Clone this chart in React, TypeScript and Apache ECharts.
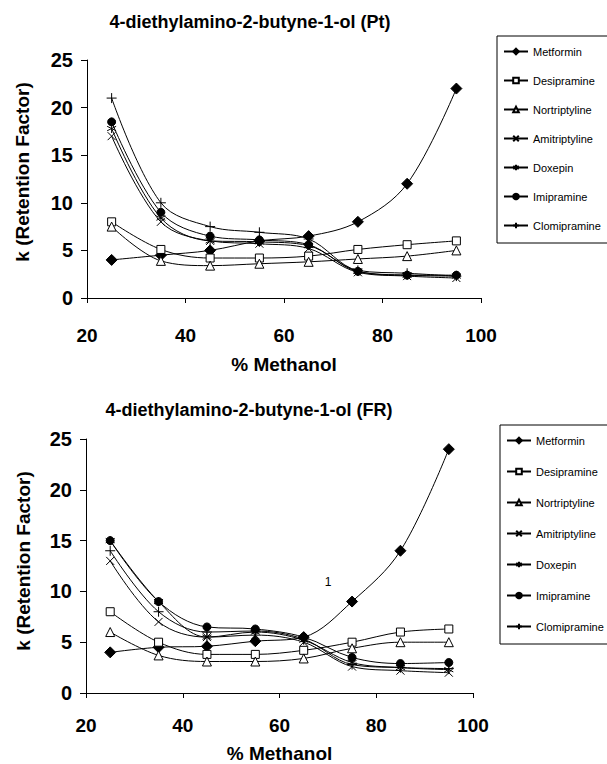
import React, { useEffect, useRef } from 'react';
import * as echarts from 'echarts';

const methanol = [25, 35, 45, 55, 65, 75, 85, 95];
const drugNames = ['Metformin', 'Desipramine', 'Nortriptyline', 'Amitriptyline', 'Doxepin', 'Imipramine', 'Clomipramine'];

// Top chart (Pt)
const metforminPt = [4, 4.5, 5, 6, 6.5, 8, 12, 22];
const desipraminePt = [8, 5.1, 4.2, 4.2, 4.4, 5.1, 5.6, 6.0];
const nortriptylinePt = [7.5, 3.9, 3.4, 3.6, 3.8, 4.1, 4.4, 5.0];
const amitriptylinePt = [17, 8, 6, 5.7, 5.2, 2.7, 2.3, 2.1];
const doxepinPt = [17.8, 8.4, 6.0, 5.9, 5.5, 2.8, 2.4, 2.3];
const imipraminePt = [18.5, 9, 6.5, 6.1, 5.6, 2.8, 2.4, 2.4];
const clomipraminePt = [21, 10, 7.5, 6.9, 6.2, 2.9, 2.6, 2.3];

// Bottom chart (FR)
const metforminFR = [4, 4.5, 4.6, 5.1, 5.5, 9, 14, 24];
const desipramineFR = [8, 5, 3.8, 3.8, 4.2, 5, 6, 6.3];
const nortriptylineFR = [6, 3.7, 3.1, 3.1, 3.4, 4.4, 5, 5];
const amitriptylineFR = [13, 7, 5.5, 5.7, 5.0, 2.6, 2.2, 2.0];
const doxepinFR = [15, 9, 5.5, 6, 5.2, 3.0, 2.5, 2.3];
const imipramineFR = [15, 9, 6.5, 6.3, 5.5, 3.5, 2.9, 3.0];
const clomipramineFR = [14, 8, 6, 6.1, 5.3, 2.8, 2.5, 2.4];

const titles = ['4-diethylamino-2-butyne-1-ol (Pt)', '4-diethylamino-2-butyne-1-ol (FR)'];
const xName = '% Methanol';
const yName = 'k (Retention Factor)';

const FONT = '"Liberation Sans", Arial, sans-serif';

const X_PATH = 'path://M0,0L10,10M10,0L0,10';
const STAR_PATH = 'path://M5,0L5,10M0.7,2.5L9.3,7.5M9.3,2.5L0.7,7.5';
const PLUS_PATH = 'path://M5,0L5,10M0,5L10,5';

const markers = [
  { symbol: 'diamond', size: 11, fill: '#000' },
  { symbol: 'rect', size: 8, fill: '#fff' },
  { symbol: 'triangle', size: 9, fill: '#fff' },
  { symbol: X_PATH, size: 8, fill: '#000' },
  { symbol: STAR_PATH, size: 9, fill: '#000' },
  { symbol: 'circle', size: 8, fill: '#000' },
  { symbol: PLUS_PATH, size: 10, fill: '#000' },
];

function buildSeries(values: number[][], idx: number) {
  return drugNames.map((name, i) => ({
    name,
    type: 'line',
    xAxisIndex: idx,
    yAxisIndex: idx,
    data: methanol.map((x, j) => [x, values[i][j]]),
    smooth: 0.35,
    symbol: markers[i].symbol,
    symbolSize: markers[i].size,
    showSymbol: true,
    lineStyle: { color: '#000', width: 1 },
    itemStyle: { color: markers[i].fill, borderColor: '#000', borderWidth: 1 },
    emphasis: { disabled: true },
  }));
}

function xAxisCfg(gridIndex: number, labelMargin: number, nameGap: number) {
  return {
    gridIndex,
    type: 'value',
    min: 20,
    max: 100,
    interval: 20,
    axisLine: { show: true, lineStyle: { color: '#000', width: 1 } },
    axisTick: { show: true, length: 5, lineStyle: { color: '#000', width: 1 } },
    axisLabel: { margin: labelMargin, fontSize: 19, fontWeight: 'bold', fontFamily: FONT, color: '#000' },
    splitLine: { show: false },
    name: xName,
    nameLocation: 'middle',
    nameGap,
    nameTextStyle: { fontSize: 19, fontWeight: 'bold', fontFamily: FONT, color: '#000' },
  };
}

function yAxisCfg(gridIndex: number) {
  return {
    gridIndex,
    type: 'value',
    min: 0,
    max: 25,
    interval: 5,
    axisLine: { show: true, lineStyle: { color: '#000', width: 1 } },
    axisTick: { show: true, length: 6, lineStyle: { color: '#000', width: 1 } },
    axisLabel: { margin: 14, fontSize: 20, fontWeight: 'bold', fontFamily: FONT, color: '#000' },
    splitLine: { show: false },
  };
}

function legendCfg(top: number, left: number, itemGap: number) {
  return {
    orient: 'vertical',
    left,
    top,
    data: drugNames,
    itemWidth: 24,
    itemHeight: 7,
    itemGap,
    padding: [10, 14, 12, 6],
    borderColor: '#000',
    borderWidth: 1,
    backgroundColor: '#fff',
    selectedMode: false,
    textStyle: { fontSize: 11, fontFamily: FONT, color: '#000', padding: [0, 0, 0, 0] },
  };
}

export default function App() {
  const ref = useRef<HTMLDivElement>(null);
  useEffect(() => {
    document.body.style.margin = '0';
    if (!ref.current) return;
    const chart = echarts.init(ref.current, null, { renderer: 'svg' });
    const topValues = [metforminPt, desipraminePt, nortriptylinePt, amitriptylinePt, doxepinPt, imipraminePt, clomipraminePt];
    const botValues = [metforminFR, desipramineFR, nortriptylineFR, amitriptylineFR, doxepinFR, imipramineFR, clomipramineFR];
    const titleFont = `bold 18px ${FONT}`;
    const nameFont = `bold 19px ${FONT}`;
    chart.setOption({
      animation: false,
      backgroundColor: '#fff',
      grid: [
        { left: 87, top: 60, width: 394, height: 238 },
        { left: 86, top: 439, width: 387, height: 255 },
      ],
      xAxis: [xAxisCfg(0, 28, 57), xAxisCfg(1, 23, 51)],
      yAxis: [yAxisCfg(0), yAxisCfg(1)],
      legend: [legendCfg(36, 497, 18), legendCfg(425, 500, 20)],
      series: [...buildSeries(topValues, 0), ...buildSeries(botValues, 1)],
      graphic: [
        { type: 'text', x: 250, y: 22, style: { text: titles[0], font: titleFont, fill: '#000', align: 'center', verticalAlign: 'middle' } },
        { type: 'text', x: 249, y: 410, style: { text: titles[1], font: titleFont, fill: '#000', align: 'center', verticalAlign: 'middle' } },
        { type: 'text', x: 22, y: 172, rotation: Math.PI / 2, style: { text: yName, font: nameFont, fill: '#000', align: 'center', verticalAlign: 'middle' } },
        { type: 'text', x: 23, y: 561, rotation: Math.PI / 2, style: { text: yName, font: nameFont, fill: '#000', align: 'center', verticalAlign: 'middle' } },
        { type: 'text', x: 328, y: 582, style: { text: '1', font: `12px ${FONT}`, fill: '#000', align: 'center', verticalAlign: 'middle' } },
      ],
    });
    return () => chart.dispose();
  }, []);
  return <div ref={ref} style={{ width: 607, height: 764 }} />;
}
